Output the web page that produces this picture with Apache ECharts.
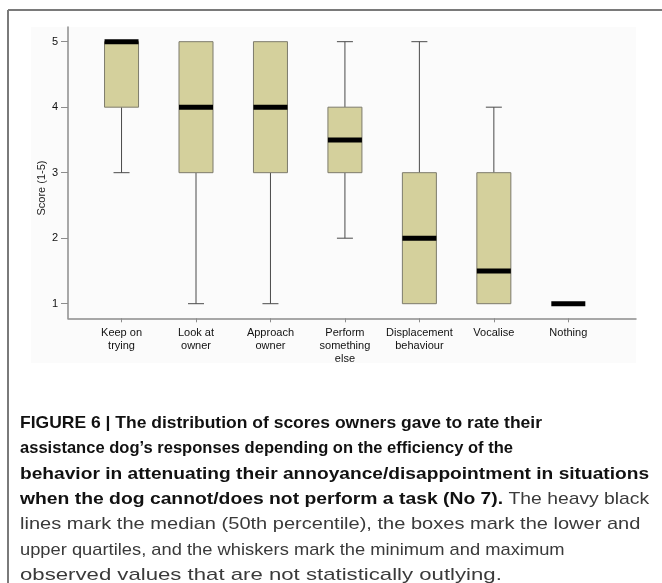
<!DOCTYPE html>
<html><head><meta charset="utf-8">
<script src="https://cdn.jsdelivr.net/npm/echarts@6/dist/echarts.min.js"></script>
<style>html,body{margin:0;padding:0;background:#fff}#c{width:662px;height:583px}</style>
</head><body><div id="c"></div>
<script>
// ---- data ----
const categories = ['Keep on\ntrying', 'Look at\nowner', 'Approach\nowner', 'Perform\nsomething\nelse', 'Displacement\nbehaviour', 'Vocalise', 'Nothing'];
const whiskerMin    = [3, 1, 1, 2,   1, 1,   1];
const lowerQuartile = [4, 3, 3, 3,   1, 1,   1];
const medianValues  = [5, 4, 4, 3.5, 2, 1.5, 1];
const upperQuartile = [5, 5, 5, 4,   3, 3,   1];
const whiskerMax    = [5, 5, 5, 5,   5, 4,   1];
const yTickValues = [1, 2, 3, 4, 5];
const yAxisTitle = 'Score (1-5)';
const captionLines = [
  [['FIGURE 6 | The distribution of scores owners gave to rate their', true]],
  [['assistance dog\u2019s responses depending on the efficiency of the', true]],
  [['behavior in attenuating their annoyance/disappointment in situations', true]],
  [['when the dog cannot/does not perform a task (No 7).', true], [' The heavy black', false]],
  [['lines mark the median (50th percentile), the boxes mark the lower and', false]],
  [['upper quartiles, and the whiskers mark the minimum and maximum', false]],
  [['observed values that are not statistically outlying.', false]]
];

// ---- layout / style ----
const captionRight = [534, 500, 650, 651, 646, 561, 514];
const captionY0 = 423.3, captionStep = 25.35, captionX = 20;
const boldFont = 'bold 17px "Liberation Sans", Arial, sans-serif';
const normFont = '17px "Liberation Sans", Arial, sans-serif';
const BOX_FILL = '#d4d09c', BOX_STROKE = '#7d7b6c', WHISKER = '#4a4a4a', AXIS = '#8c8c8c';

const ctx = document.createElement('canvas').getContext('2d');
function measure(t, f) { ctx.font = f; return ctx.measureText(t).width; }

const graphics = [];
graphics.push({type:'rect', silent:true, z:-10, shape:{x:31, y:27, width:605, height:336}, style:{fill:'#fbfbfb'}});
graphics.push({type:'line', silent:true, shape:{x1:8, y1:10, x2:662, y2:10}, style:{stroke:'#7a7a7a', lineWidth:2}});
graphics.push({type:'line', silent:true, shape:{x1:8, y1:10, x2:8, y2:583}, style:{stroke:'#7a7a7a', lineWidth:2}});
graphics.push({type:'text', x:41.7, y:188, rotation:Math.PI/2,
  style:{text:yAxisTitle, font:'11px "Liberation Sans", Arial, sans-serif', fill:'#222', textAlign:'center', textVerticalAlign:'middle'}});

// caption: per-line fit, lightly blended with the mean scale so glyphs stay consistent
const lineInfo = captionLines.map((segs, i) => {
  const widths = segs.map(s => measure(s[0], s[1] ? boldFont : normFont));
  const total = widths.reduce((a, b) => a + b, 0);
  return {segs, widths, fit:(captionRight[i] - captionX) / total};
});
const meanFit = lineInfo.reduce((a, l) => a + l.fit, 0) / lineInfo.length;
lineInfo.forEach((l, i) => {
  const sc = 0.85 * l.fit + 0.15 * meanFit;
  let x = captionX;
  l.segs.forEach((s, j) => {
    graphics.push({type:'text', x:x, y:captionY0 + i * captionStep, scaleX:sc,
      style:{text:s[0], font:s[1] ? boldFont : normFont, fill:s[1] ? '#111' : '#3a3a3a', textAlign:'left', textVerticalAlign:'middle'}});
    x += l.widths[j] * sc;
  });
});

const boxData = categories.map((c, i) => [i, whiskerMin[i], lowerQuartile[i], medianValues[i], upperQuartile[i], whiskerMax[i]]);

function renderBox(params, api) {
  const i = api.value(0);
  const mn = api.value(1), q1 = api.value(2), md = api.value(3), q3 = api.value(4), mx = api.value(5);
  const c = v => api.coord([i, v]);
  const cx = c(md)[0];
  const half = 17, capHalf = 8;
  const yMin = c(mn)[1], yQ1 = c(q1)[1], yMd = c(md)[1], yQ3 = c(q3)[1], yMax = c(mx)[1];
  const children = [];
  const ws = {stroke: WHISKER, lineWidth: 1};
  if (mn < q1) {
    children.push({type:'line', shape:{x1:cx, y1:yQ1, x2:cx, y2:yMin}, style:ws});
    children.push({type:'line', shape:{x1:cx - capHalf, y1:yMin, x2:cx + capHalf, y2:yMin}, style:ws});
  }
  if (mx > q3) {
    children.push({type:'line', shape:{x1:cx, y1:yQ3, x2:cx, y2:yMax}, style:ws});
    children.push({type:'line', shape:{x1:cx - capHalf, y1:yMax, x2:cx + capHalf, y2:yMax}, style:ws});
  }
  if (q3 > q1) {
    children.push({type:'rect', shape:{x:cx - half, y:yQ3, width:half * 2, height:yQ1 - yQ3}, style:{fill:BOX_FILL, stroke:BOX_STROKE, lineWidth:1}});
  }
  children.push({type:'rect', shape:{x:cx - half, y:yMd - 2.5, width:half * 2, height:5}, style:{fill:'#000'}});
  return {type:'group', children};
}

const chart = echarts.init(document.getElementById('c'), null, {renderer:'canvas'});
chart.setOption({
  animation:false,
  backgroundColor:'#ffffff',
  grid:{left:68, right:26, top:27, bottom:264.7, containLabel:false},
  xAxis:{
    type:'value', min:-0.719, max:6.909,
    splitLine:{show:false},
    axisLine:{show:true, onZero:false, lineStyle:{color:AXIS, width:1.5}},
    axisTick:{show:true, length:4, customValues:[0,1,2,3,4,5,6], lineStyle:{color:AXIS}},
    axisLabel:{customValues:[0,1,2,3,4,5,6], formatter:v => categories[Math.round(v)],
      margin:8, color:'#111', fontSize:11, lineHeight:13, fontFamily:'"Liberation Sans", Arial, sans-serif'}
  },
  yAxis:{
    type:'value', min:0.777, max:5.224,
    splitLine:{show:false},
    axisLine:{show:true, onZero:false, lineStyle:{color:AXIS, width:1.5}},
    axisTick:{show:true, length:7, customValues:yTickValues, lineStyle:{color:AXIS}},
    axisLabel:{customValues:yTickValues, margin:10, color:'#111', fontSize:11, fontFamily:'"Liberation Sans", Arial, sans-serif'}
  },
  series:[{
    type:'custom', renderItem:renderBox, data:boxData,
    encode:{x:0, y:[1,2,3,4,5]}, clip:false
  }],
  graphic:{elements:graphics}
});
</script></body></html>
